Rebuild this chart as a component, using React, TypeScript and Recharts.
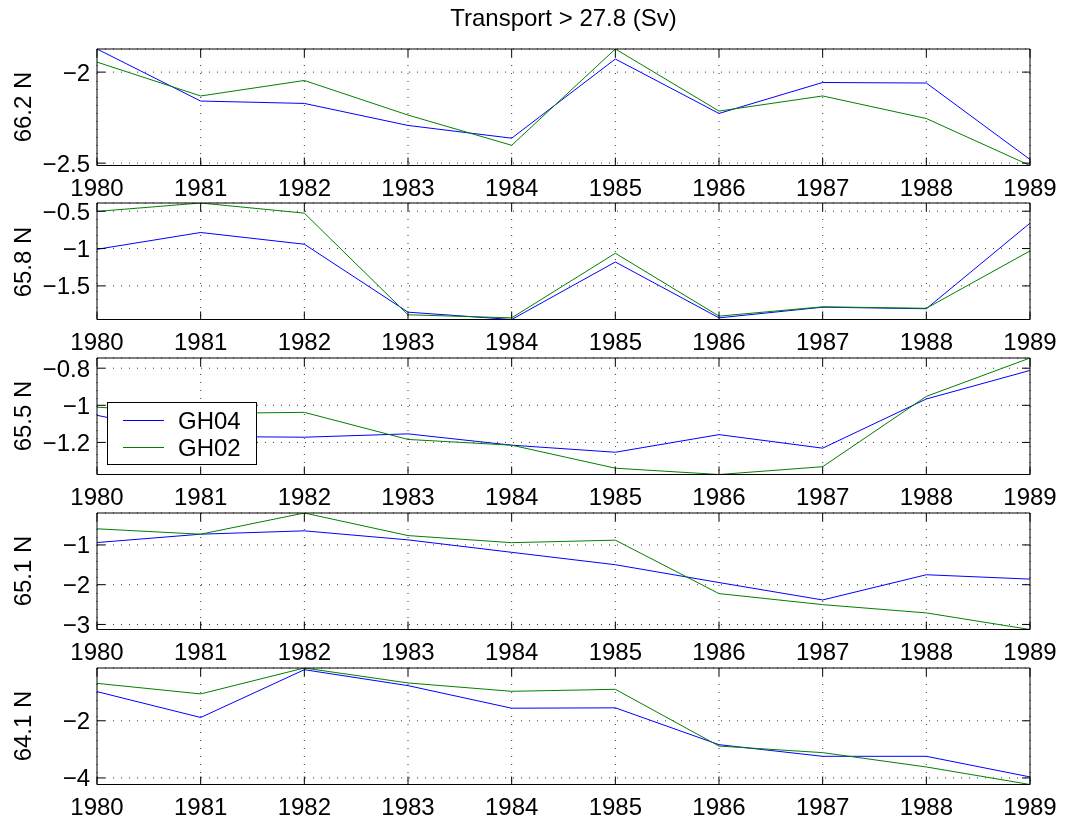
import React from 'react';
import { LineChart, Line, XAxis, YAxis, CartesianGrid, Legend } from 'recharts';

const years = [1980, 1981, 1982, 1983, 1984, 1985, 1986, 1987, 1988, 1989];

// 66.2 N
const gh04_662 = [-1.873, -2.159, -2.172, -2.293, -2.363, -1.928, -2.227, -2.057, -2.06, -2.48];
const gh02_662 = [-1.945, -2.131, -2.046, -2.236, -2.402, -1.873, -2.214, -2.131, -2.255, -2.513];
const ticks_662 = [-2.5, -2];

// 65.8 N
const gh04_658 = [-1.01, -0.785, -0.942, -1.852, -1.95, -1.18, -1.928, -1.785, -1.806, -0.66];
const gh02_658 = [-0.503, -0.39, -0.526, -1.887, -1.928, -1.063, -1.905, -1.78, -1.8, -1.032];
const ticks_658 = [-1.5, -1, -0.5];

// 65.5 N
const gh04_655 = [-1.054, -1.168, -1.172, -1.154, -1.215, -1.253, -1.158, -1.231, -0.966, -0.812];
const gh02_655 = [-1.01, -1.044, -1.038, -1.184, -1.215, -1.339, -1.373, -1.331, -0.952, -0.745];
const ticks_655 = [-1.2, -1, -0.8];

// 65.1 N
const gh04_651 = [-0.94, -0.73, -0.646, -0.873, -1.186, -1.498, -1.946, -2.384, -1.75, -1.86];
const gh02_651 = [-0.595, -0.73, -0.197, -0.765, -0.943, -0.88, -2.224, -2.502, -2.71, -3.127];
const ticks_651 = [-3, -2, -1];

// 64.1 N
const gh04_641 = [-0.98, -1.885, -0.213, -0.77, -1.56, -1.547, -2.836, -3.244, -3.244, -3.965];
const gh02_641 = [-0.69, -1.06, -0.153, -0.676, -0.969, -0.899, -2.885, -3.115, -3.617, -4.23];
const ticks_641 = [-4, -2];

const seriesOrder = ['GH04', 'GH02'];

const FONT = '"Liberation Sans", Arial, Helvetica, sans-serif';
const CHART_W = 1049;
const PLOT_TOP = 11;
const PLOT_H = 116.5;
const CHART_H = PLOT_TOP + PLOT_H + 34;
const PANEL_STEP = 154.7;

const minus = (v: number) => String(v).replace('-', '\u2212');
const blank = () => '';

const LegendBox = ({ payload }: any) => {
  const items = [...(payload || [])].sort(
    (a: any, b: any) => seriesOrder.indexOf(a.value) - seriesOrder.indexOf(b.value)
  );
  return (
    <div style={{ border: '1px solid #000', background: '#fff', width: 148, padding: '4px 0 3px 0', fontFamily: FONT }}>
      {items.map((entry: any) => (
        <div key={entry.value} style={{ display: 'flex', alignItems: 'center', height: 27 }}>
          <svg width={70} height={27}>
            <line x1={15} x2={56} y1={13.5} y2={13.5} stroke={entry.color} strokeWidth={1} />
          </svg>
          <span style={{ fontSize: 24, color: '#000' }}>{entry.value}</span>
        </div>
      ))}
    </div>
  );
};

interface PanelProps {
  label: string;
  gh04: number[];
  gh02: number[];
  yTicks: number[];
  index: number;
  showLegend?: boolean;
}

const Panel: React.FC<PanelProps> = ({ label, gh04, gh02, yTicks, index, showLegend }) => {
  const data = years.map((year, i) => ({ year, GH04: gh04[i], GH02: gh02[i] }));
  const all = [...gh04, ...gh02];
  const domain = [Math.min(...all), Math.max(...all)];
  const tickStyle = { fill: '#000', fontSize: 24, fontFamily: FONT };

  return (
    <div style={{ position: 'absolute', left: 0, top: 40.7 + index * PANEL_STEP - PLOT_TOP }}>
      <LineChart width={CHART_W} height={CHART_H} data={data} margin={{ top: 10, right: 26, bottom: 0, left: 0 }}>
        <CartesianGrid stroke="#000" strokeDasharray="1 7" strokeOpacity={0.8} />
        <XAxis
          dataKey="year"
          type="number"
          domain={[1980, 1989]}
          ticks={years}
          interval={0}
          height={34}
          tickSize={-8}
          tickMargin={21}
          stroke="#000"
          tick={tickStyle}
        />
        <XAxis
          xAxisId="top"
          orientation="top"
          dataKey="year"
          type="number"
          domain={[1980, 1989]}
          ticks={years}
          interval={0}
          height={1}
          tickSize={-8}
          tickFormatter={blank}
          stroke="#000"
        />
        <YAxis
          type="number"
          domain={domain}
          ticks={yTicks}
          interval={0}
          allowDataOverflow
          width={89}
          tickSize={-8}
          tickMargin={15}
          tickFormatter={minus}
          stroke="#000"
          tick={tickStyle}
        />
        <YAxis
          yAxisId="right"
          orientation="right"
          type="number"
          domain={domain}
          ticks={yTicks}
          interval={0}
          allowDataOverflow
          width={1}
          tickSize={-8}
          tickFormatter={blank}
          stroke="#000"
        />
        {showLegend && (
          <Legend
            layout="vertical"
            align="center"
            verticalAlign="middle"
            wrapperStyle={{ left: 99, top: 55, width: 150 }}
            content={<LegendBox />}
          />
        )}
        <Line dataKey="GH04" name="GH04" stroke="#0000ff" strokeWidth={1} dot={false} activeDot={false} isAnimationActive={false} />
        <Line dataKey="GH02" name="GH02" stroke="#008000" strokeWidth={1} dot={false} activeDot={false} isAnimationActive={false} />
      </LineChart>
      <div
        style={{
          position: 'absolute',
          left: 15,
          top: PLOT_TOP + PLOT_H / 2,
          transform: 'translate(-50%, -50%) rotate(-90deg)',
          whiteSpace: 'nowrap',
          fontFamily: FONT,
          fontSize: 24,
          lineHeight: '24px',
          color: '#000',
        }}
      >
        {label}
      </div>
    </div>
  );
};

const App: React.FC = () => (
  <div style={{ position: 'fixed', left: 8, top: 8, width: CHART_W, height: 806, background: '#fff' }}>
    <div
      style={{
        position: 'absolute',
        left: 89,
        width: 933,
        top: -2,
        textAlign: 'center',
        fontFamily: FONT,
        fontSize: 24,
        lineHeight: '24px',
        color: '#000',
      }}
    >
      Transport &gt; 27.8 (Sv)
    </div>
    <Panel index={0} label="66.2 N" gh04={gh04_662} gh02={gh02_662} yTicks={ticks_662} />
    <Panel index={1} label="65.8 N" gh04={gh04_658} gh02={gh02_658} yTicks={ticks_658} />
    <Panel index={2} label="65.5 N" gh04={gh04_655} gh02={gh02_655} yTicks={ticks_655} showLegend />
    <Panel index={3} label="65.1 N" gh04={gh04_651} gh02={gh02_651} yTicks={ticks_651} />
    <Panel index={4} label="64.1 N" gh04={gh04_641} gh02={gh02_641} yTicks={ticks_641} />
  </div>
);

export default App;
